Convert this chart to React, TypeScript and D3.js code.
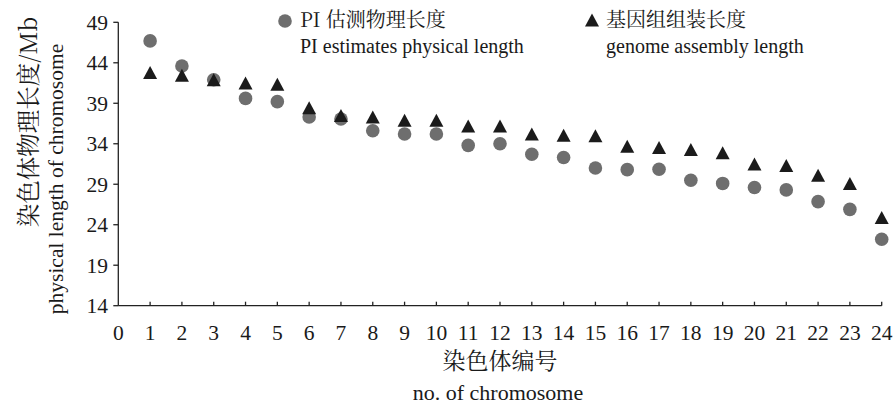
import React from "react";
import * as d3 from "d3";

const chromosomes = [1, 2, 3, 4, 5, 6, 7, 8, 9, 10, 11, 12, 13, 14, 15, 16, 17, 18, 19, 20, 21, 22, 23, 24];
const piEstimate = [46.7, 43.6, 41.9, 39.6, 39.2, 37.3, 37.05, 35.6, 35.2, 35.2, 33.8, 34.0, 32.7, 32.3, 31.0, 30.8, 30.85, 29.5, 29.1, 28.6, 28.3, 26.85, 25.9, 22.2];
const assemblyLength = [42.8, 42.45, 41.9, 41.5, 41.35, 38.45, 37.5, 37.3, 36.9, 36.9, 36.2, 36.2, 35.2, 35.05, 35.0, 33.7, 33.55, 33.3, 32.9, 31.5, 31.3, 30.1, 29.1, 24.9];
const xTicks = d3.range(0, 25);
const yTicks = [14, 19, 24, 29, 34, 39, 44, 49];
const legendCn = ["PI 估测物理长度", "基因组组装长度"];
const legendEn = ["PI estimates physical length", "genome assembly length"];
const yTitleCn = "染色体物理长度/Mb";
const yTitleEn = "physical length of chromosome";
const xTitleCn = "染色体编号";
const xTitleEn = "no. of chromosome";

const W = 895;
const H = 409;
const LATIN: React.CSSProperties = { fontFamily: `"Liberation Serif", monospace` };
const CJK: React.CSSProperties = { fontFamily: `"Noto Serif CJK SC", monospace` };

function trianglePath(cx: number, cy: number, w: number, h: number) {
  const p = d3.path();
  p.moveTo(cx, cy - h / 2);
  p.lineTo(cx + w / 2, cy + h / 2);
  p.lineTo(cx - w / 2, cy + h / 2);
  p.closePath();
  return p.toString();
}

export default function App() {
  const x = d3.scaleLinear().domain([0, 24]).range([118.3, 881.7]);
  const y = d3.scaleLinear().domain([14, 49]).range([305.7, 22.3]);
  const axisColor = "#222";
  const circleColor = "#6e6e6e";
  const triColor = "#1b1b1b";
  const textColor = "#1a1a1a";
  const x0 = x(0);
  const yBase = y(14);

  return (
    <div style={{ position: "absolute", left: 0, top: 0, width: W, height: H, background: "#fff" }}>
      <svg width={W} height={H} style={{ display: "block" }}>
        <rect width={W} height={H} fill="#fff" />
        {/* y axis */}
        <line x1={x0} x2={x0} y1={y(49)} y2={yBase} stroke={axisColor} strokeWidth={1.3} />
        {yTicks.map((t) => (
          <g key={"yt" + t}>
            <line x1={x0 - 5} x2={x0} y1={y(t)} y2={y(t)} stroke={axisColor} strokeWidth={1.3} />
            <text x={108} y={y(t)} dy="0.35em" textAnchor="end" fontSize={21.5} fill={textColor} style={LATIN}>
              {t}
            </text>
          </g>
        ))}
        {/* x axis */}
        <line x1={x0} x2={x(24)} y1={yBase} y2={yBase} stroke={axisColor} strokeWidth={1.3} />
        {xTicks.map((t) => (
          <g key={"xt" + t}>
            {t > 0 && <line x1={x(t)} x2={x(t)} y1={yBase} y2={yBase - 4} stroke={axisColor} strokeWidth={1.3} />}
            <text x={x(t)} y={332} dy="0.35em" textAnchor="middle" fontSize={21.5} fill={textColor} style={LATIN}>
              {t}
            </text>
          </g>
        ))}
        {/* axis titles */}
        <text x={500} y={361} dy="0.35em" textAnchor="middle" fontSize={23} fill={textColor} style={CJK}>
          {xTitleCn}
        </text>
        <text x={498} y={392} dy="0.35em" textAnchor="middle" fontSize={22} fill={textColor} style={LATIN}>
          {xTitleEn}
        </text>
        <text transform={`translate(29,122) rotate(-90)`} dy="0.35em" textAnchor="middle" fontSize={23.5} fill={textColor} style={CJK}>
          {yTitleCn}
        </text>
        <text transform={`translate(55,179) rotate(-90)`} dy="0.35em" textAnchor="middle" fontSize={21.5} fill={textColor} style={LATIN}>
          {yTitleEn}
        </text>
        {/* points */}
        {chromosomes.map((c, i) => (
          <circle key={"c" + c} cx={x(c)} cy={y(piEstimate[i])} r={6.8} fill={circleColor} />
        ))}
        {chromosomes.map((c, i) => (
          <path key={"t" + c} d={trianglePath(x(c), y(assemblyLength[i]), 14, 13)} fill={triColor} />
        ))}
        {/* legend */}
        <circle cx={285} cy={21} r={6.8} fill={circleColor} />
        <text x={300} y={20} dy="0.35em" fontSize={20} fill={textColor} style={CJK}>{legendCn[0]}</text>
        <text x={300} y={46} dy="0.35em" fontSize={20} fill={textColor} style={LATIN}>{legendEn[0]}</text>
        <path d={trianglePath(592, 20, 14, 13)} fill={triColor} />
        <text x={606} y={20} dy="0.35em" fontSize={20} fill={textColor} style={CJK}>{legendCn[1]}</text>
        <text x={606} y={46} dy="0.35em" fontSize={20} fill={textColor} style={LATIN}>{legendEn[1]}</text>
      </svg>
    </div>
  );
}
